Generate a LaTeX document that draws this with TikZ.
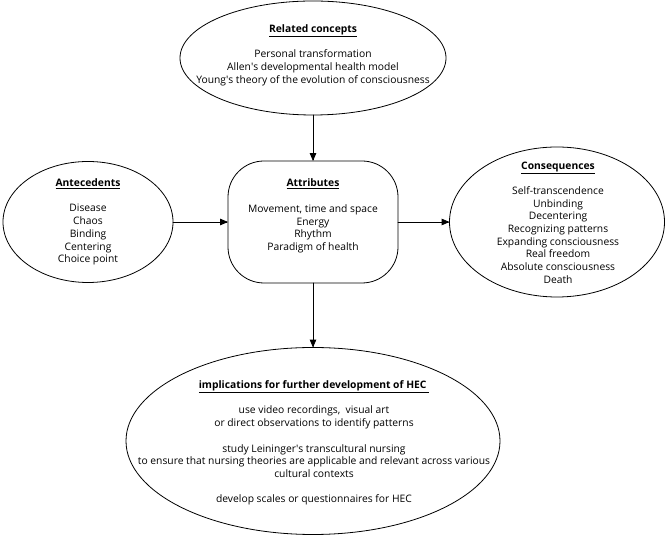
\documentclass[tikz,border=0pt]{standalone}
\usepackage{fontspec}
\setmainfont{Open Sans}
\usepackage{tikz}
\usetikzlibrary{arrows,shapes.geometric}

\tikzset{
    concept/.style={draw,ellipse,inner sep=0pt,outer sep=0pt},
    attrbox/.style={draw,rectangle,rounded corners=36pt,inner sep=0pt,outer sep=0pt},
    txt/.style={align=center,inner sep=0pt,font=\fontsize{10.3}{12.7}\selectfont}
}

\begin{document}
\begin{tikzpicture}[line cap=round,line join=round,>=triangle 45,x=1pt,y=1pt,line width=0.8pt]
        \useasboundingbox (0,0) rectangle (669,540);
        % shapes
        \node[concept,minimum width=266pt,minimum height=114pt] (related) at (313,482) {};
        \node[concept,minimum width=170pt,minimum height=121pt] (antec) at (88,318) {};
        \node[attrbox,minimum width=170pt,minimum height=122pt] (attr) at (313,318) {};
        \node[concept,minimum width=215pt,minimum height=150pt] (conseq) at (557,318) {};
        \node[concept,minimum width=374pt,minimum height=187pt] (impl) at (313,99) {};
        % texts
        \node[txt] (relatedtxt) at (313,485) {\underline{\textbf{Related concepts}}\\[12.7pt]
            Personal transformation\\
            Allen\textquotesingle s developmental health model\\
            Young\textquotesingle s theory of the evolution of consciousness};
        \node[txt] (antectxt) at (88,318) {\underline{\textbf{Antecedents}}\\[12.7pt]
            Disease\\ Chaos\\ Binding\\ Centering\\ Choice point};
        \node[txt] (attrtxt) at (313,324) {\underline{\textbf{Attributes}}\\[12.7pt]
            Movement, time and space\\ Energy\\ Rhythm\\ Paradigm of health};
        \node[txt] (conseqtxt) at (558,317.5) {\underline{\textbf{Consequences}}\\[12.7pt]
            Self-transcendence\\ Unbinding\\ Decentering\\ Recognizing patterns\\
            Expanding consciousness\\ Real freedom\\ Absolute consciousness\\ Death};
        \node[txt] (impltxt) at (314,97) {\underline{\textbf{implications for further development of HEC\ }}\\[12.7pt]
            use video recordings,\ \ visual art\\
            or direct observations to identify patterns\\[12.7pt]
            study Leininger\textquotesingle s transcultural nursing\\
            to ensure that nursing theories are applicable and relevant across various\\
            cultural contexts\\[12.7pt]
            develop scales or questionnaires for HEC};
        % connectors
        \draw [->] (related) -- (attr);
        \draw [->] (antec) -- (attr);
        \draw [->] (attr) -- (conseq);
        \draw [->] (attr) -- (impl);
    \end{tikzpicture}
\end{document}
